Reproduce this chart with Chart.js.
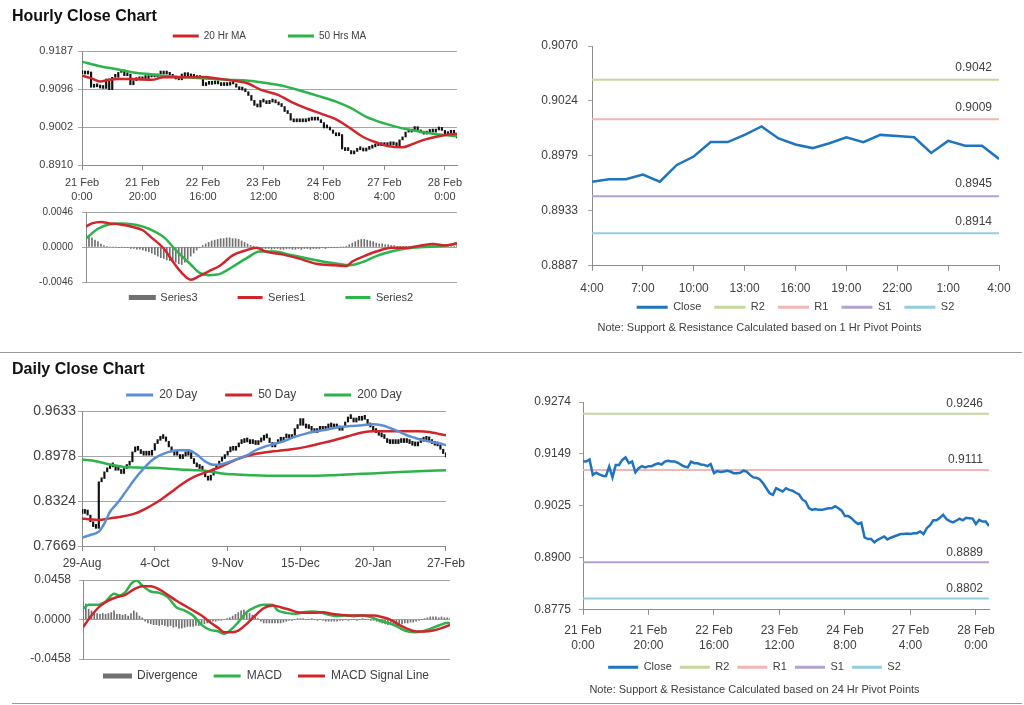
<!DOCTYPE html>
<html>
<head>
<meta charset="utf-8">
<title>Hourly and Daily Close Charts</title>
<script src="https://cdn.jsdelivr.net/npm/chart.js@4.4.1/dist/chart.umd.min.js"></script>
<style>
body{margin:0;background:#fff;width:1024px;height:705px;overflow:hidden;position:relative;font-family:"Liberation Sans",Arial,sans-serif;}
canvas{position:absolute;}
.heading{position:absolute;left:12px;font-weight:bold;font-size:16px;color:#111;z-index:2;}
.rule{position:absolute;height:0;border-top:1px solid #9a9a9a;}
</style>
</head>
<body>
<div class="rule" style="left:0;top:352px;width:1022px"></div>
<div class="rule" style="left:12px;top:703px;width:1010px"></div>
<canvas id="hourlyPrice" width="470" height="216" style="left:0;top:-11px"></canvas>
<canvas id="hourlyMacd" width="470" height="147" style="left:0;top:196px"></canvas>
<canvas id="lastDay" width="504" height="307" style="left:520px;top:28px"></canvas>
<canvas id="dailyPrice" width="470" height="211" style="left:0;top:361px"></canvas>
<canvas id="dailyMacd" width="470" height="133" style="left:0;top:564px"></canvas>
<canvas id="hourlyLine" width="504" height="312" style="left:520px;top:385px"></canvas>
<div class="heading" style="top:7px">Hourly Close Chart</div>
<div class="heading" style="top:360px">Daily Close Chart</div>
<script>
// ---- hourly data (21 Feb 0:00 .. 28 Feb 4:00, one value per hour)
const hourlyClose = [
0.9132,0.9131,0.9136,0.9099,0.9104,0.9100,0.9097,0.9096,0.9119,0.9093,
0.9123,0.9123,0.9135,0.9141,0.9127,0.9131,0.9105,0.9115,0.9120,0.9117,
0.9120,0.9120,0.9124,0.9127,0.9124,0.9131,0.9133,0.9131,0.9131,0.9128,
0.9123,0.9119,0.9117,0.9131,0.9127,0.9127,0.9124,0.9123,0.9120,0.9125,
0.9103,0.9108,0.9106,0.9107,0.9109,0.9107,0.9103,0.9103,0.9104,0.9109,
0.9107,0.9099,0.9093,0.9092,0.9088,0.9079,0.9067,0.9055,0.9051,0.9067,
0.9063,0.9059,0.9067,0.9063,0.9061,0.9056,0.9052,0.9040,0.9035,0.9019,
0.9015,0.9017,0.9015,0.9015,0.9017,0.9019,0.9019,0.9024,0.9019,0.9013,
0.9000,0.9000,0.8995,0.8987,0.8981,0.8984,0.8949,0.8945,0.8945,0.8937,
0.8943,0.8947,0.8951,0.8944,0.8948,0.8951,0.8954,0.8957,0.8957,0.8958,
0.8957,0.8959,0.8959,0.8963,0.8957,0.8971,0.8978,0.8990,0.8990,0.8996,
0.9003,0.8993,0.8988,0.8985,0.8989,0.8994,0.8990,0.8996,0.8995,0.8994,
0.8981,0.8991,0.8987,0.8987,0.8976];

const ma20Hours = [0,3,6,9,12,17,23,27,34,40,46,50,55,59,65,69,74,79,84,88,93,98,101,106,109,113,118,121,124];
const ma20Values = [0.9127,0.9121,0.9113,0.9117,0.9119,0.9119,0.9117,0.9123,0.9123,0.9124,0.9119,0.9115,0.9108,0.9093,0.9080,0.9064,0.9048,0.9035,0.9021,0.9003,0.8978,0.8963,0.8956,0.8953,0.8960,0.8971,0.8980,0.8984,0.8986];
const ma50Hours = [0,6,12,17,23,28,35,41,48,55,61,67,72,78,84,89,94,100,106,111,116,121,124];
const ma50Values = [0.9161,0.9150,0.9142,0.9135,0.9130,0.9126,0.9123,0.9120,0.9117,0.9115,0.9109,0.9101,0.9091,0.9078,0.9064,0.9048,0.9027,0.9011,0.8999,0.8992,0.8986,0.8982,0.8980];

const series1Hours = [0,2,5,8,11,16,19,22,26,29,32,35,38,41,45,49,53,57,60,66,71,77,83,87,89,93,97,102,107,112,116,120,124];
const series1Values = [0.0027,0.0031,0.0033,0.0031,0.0030,0.0026,0.0022,0.0012,-0.0002,-0.0019,-0.0034,-0.0043,-0.0038,-0.0032,-0.0024,-0.0011,-0.0005,-0.0001,-0.0006,-0.0010,-0.0015,-0.0022,-0.0024,-0.0025,-0.0019,-0.0012,-0.0006,-0.0001,-0.0001,0.0002,0.0004,0.0002,0.0005];
const series2Hours = [0,4,8,12,17,21,26,30,35,38,41,45,49,54,58,63,68,74,79,84,88,93,97,102,107,113,118,124];
const series2Values = [0.0011,0.0024,0.0030,0.0031,0.0029,0.0024,0.0013,-0.0004,-0.0023,-0.0034,-0.0037,-0.0035,-0.0026,-0.0014,-0.0006,-0.0006,-0.0010,-0.0015,-0.0019,-0.0022,-0.0024,-0.0019,-0.0012,-0.0006,-0.0002,0.0000,0.0001,0.0004];
const series3Values = [
0.0016,0.0013,0.0012,0.0009,0.0007,0.0004,0.0002,0.0001,0.0000,0.0000,
0.0000,-0.0001,0.0000,-0.0001,-0.0001,-0.0002,-0.0002,-0.0003,-0.0003,-0.0004,
-0.0005,-0.0006,-0.0008,-0.0010,-0.0012,-0.0014,-0.0015,-0.0017,-0.0018,-0.0019,
-0.0020,-0.0022,-0.0023,-0.0020,-0.0016,-0.0012,-0.0008,-0.0004,-0.0001,0.0002,
0.0004,0.0006,0.0008,0.0009,0.0010,0.0011,0.0011,0.0012,0.0012,0.0011,
0.0011,0.0010,0.0008,0.0006,0.0004,0.0002,0.0001,-0.0001,-0.0001,-0.0002,
-0.0002,-0.0002,-0.0003,-0.0002,-0.0002,-0.0003,-0.0003,-0.0002,-0.0002,-0.0003,
-0.0003,-0.0002,-0.0003,-0.0002,-0.0002,-0.0003,-0.0002,-0.0002,-0.0002,-0.0001,
-0.0002,-0.0001,-0.0001,-0.0001,-0.0001,0.0000,0.0000,0.0001,0.0003,0.0005,
0.0007,0.0009,0.0010,0.0010,0.0009,0.0008,0.0007,0.0005,0.0004,0.0004,
0.0003,0.0003,0.0002,0.0002,0.0001,0.0001,0.0001,0.0001,0.0001,0.0000,
0.0001,0.0001,0.0002,0.0002,0.0001,0.0002,0.0002,0.0001,0.0002,0.0002,
0.0001,0.0002,0.0002,0.0001,0.0002];

const hourTickStep = 20;
const hourTicks = [['21 Feb','0:00'],['21 Feb','20:00'],['22 Feb','16:00'],['23 Feb','12:00'],['24 Feb','8:00'],['27 Feb','4:00'],['28 Feb','0:00']];
const hourPriceTicks = ['0.8910','0.9002','0.9096','0.9187'];
const hourMacdTicks = ['-0.0046','0.0000','0.0046'];

// last 24 hours with pivot levels
const lastDayStart = 100;
const lastDayTickStep = 3;
const lastDayTicks = ['4:00','7:00','10:00','13:00','16:00','19:00','22:00','1:00','4:00'];
const lastDayValueTicks = ['0.8887','0.8933','0.8979','0.9024','0.9070'];
const levelNames = ['R2','R1','S1','S2'];
const hourPivots = [0.9042,0.9009,0.8945,0.8914];
const dayPivots = [0.9246,0.9111,0.8889,0.8802];
const hourLineTicks = ['0.8775','0.8900','0.9025','0.9149','0.9274'];

// ---- daily data (29-Aug .. 27-Feb, trading days)
const dailyClose = [
0.8143,0.8192,0.8119,0.8022,0.7950,0.7926,0.8603,0.8651,0.8748,0.8796,
0.8845,0.8820,0.8772,0.8772,0.8724,0.8796,0.8845,0.8893,0.9038,0.9111,
0.9062,0.9014,0.8990,0.9000,0.8990,0.9062,0.9159,0.9207,0.9232,0.9256,
0.9193,0.9111,0.9038,0.8990,0.9000,0.8941,0.8980,0.8990,0.9028,0.8941,
0.8869,0.8820,0.8796,0.8772,0.8675,0.8627,0.8700,0.8796,0.8845,0.8903,
0.8941,0.8990,0.9038,0.9111,0.9062,0.9111,0.9159,0.9174,0.9207,0.9183,
0.9159,0.9174,0.9145,0.9183,0.9207,0.9280,0.9241,0.9174,0.9111,0.9159,
0.9207,0.9193,0.9241,0.9256,0.9232,0.9280,0.9377,0.9425,0.9522,0.9425,
0.9386,0.9377,0.9352,0.9319,0.9352,0.9367,0.9352,0.9386,0.9425,0.9401,
0.9386,0.9415,0.9352,0.9401,0.9473,0.9546,0.9522,0.9473,0.9531,0.9498,
0.9531,0.9512,0.9449,0.9401,0.9352,0.9319,0.9280,0.9256,0.9232,0.9174,
0.9159,0.9174,0.9159,0.9174,0.9193,0.9174,0.9193,0.9159,0.9135,0.9125,
0.9174,0.9193,0.9207,0.9256,0.9193,0.9159,0.9135,0.9125,0.9077,0.9014,
0.8966];

const ma20DayIdx = [0,3,6,8,10,13,16,19,22,25,28,31,34,38,41,44,47,50,53,56,59,62,65,68,72,76,80,84,88,92,96,100,104,107,110,113,116,119,122,125,128,130];
const ma20DayVals = [0.7790,0.7829,0.7877,0.7998,0.8167,0.8312,0.8482,0.8651,0.8796,0.8917,0.8990,0.9038,0.9062,0.9062,0.9000,0.8900,0.8850,0.8860,0.8900,0.8941,0.8990,0.9062,0.9111,0.9145,0.9193,0.9256,0.9304,0.9338,0.9367,0.9401,0.9415,0.9425,0.9440,0.9425,0.9386,0.9338,0.9280,0.9241,0.9207,0.9183,0.9159,0.9135];
const ma50DayIdx = [0,3,6,10,14,19,24,28,32,36,40,44,48,52,56,60,65,70,75,80,85,90,95,100,104,108,114,120,124,127,130];
const ma50DayVals = [0.8071,0.8056,0.8046,0.8071,0.8095,0.8143,0.8240,0.8337,0.8458,0.8579,0.8675,0.8738,0.8796,0.8869,0.8941,0.8990,0.9028,0.9053,0.9077,0.9111,0.9159,0.9207,0.9265,0.9319,0.9338,0.9338,0.9338,0.9338,0.9328,0.9304,0.9280];
const ma200DayIdx = [0,5,10,15,20,25,30,35,40,45,50,55,60,70,80,90,100,110,120,130];
const ma200DayVals = [0.8927,0.8903,0.8855,0.8820,0.8811,0.8806,0.8796,0.8782,0.8772,0.8758,0.8724,0.8709,0.8700,0.8690,0.8690,0.8700,0.8719,0.8738,0.8758,0.8772];

const macdDayIdx = [0,2,5,8,11,13,15,17,19,21,24,27,30,33,36,39,42,45,48,50,53,55,58,61,64,67,69,72,75,78,81,84,87,90,93,96,99,102,105,108,111,114,117,120,123,126,129,130];
const macdDayVals = [0.0124,0.0170,0.0170,0.0209,0.0298,0.0278,0.0317,0.0413,0.0452,0.0394,0.0325,0.0309,0.0259,0.0143,0.0104,0.0046,-0.0062,-0.0120,-0.0139,-0.0166,-0.0100,-0.0031,0.0085,0.0143,0.0170,0.0170,0.0104,0.0077,0.0066,0.0085,0.0093,0.0085,0.0054,0.0039,0.0046,0.0039,0.0046,0.0027,-0.0012,-0.0039,-0.0077,-0.0128,-0.0147,-0.0139,-0.0108,-0.0070,-0.0039,-0.0043];
const signalDayIdx = [0,3,6,9,12,15,18,21,24,27,30,33,36,39,42,45,48,50,53,55,58,61,64,67,70,73,76,79,82,85,88,91,94,97,100,103,106,109,112,115,118,121,124,127,130];
const signalDayVals = [-0.0089,0.0046,0.0155,0.0220,0.0259,0.0286,0.0348,0.0386,0.0386,0.0348,0.0286,0.0220,0.0162,0.0104,0.0046,-0.0031,-0.0100,-0.0147,-0.0147,-0.0128,-0.0050,0.0046,0.0131,0.0162,0.0143,0.0116,0.0085,0.0077,0.0077,0.0085,0.0066,0.0054,0.0046,0.0046,0.0046,0.0046,0.0027,-0.0004,-0.0062,-0.0108,-0.0139,-0.0139,-0.0128,-0.0100,-0.0062];
const divergenceDay = [
0.0200,0.0180,0.0120,0.0100,0.0080,0.0070,0.0060,0.0070,0.0060,0.0070,
0.0080,0.0100,0.0060,0.0060,0.0050,0.0060,0.0040,0.0070,0.0100,0.0080,
0.0040,0.0020,-0.0020,-0.0040,-0.0050,-0.0060,-0.0060,-0.0070,-0.0060,-0.0070,
-0.0080,-0.0070,-0.0090,-0.0080,-0.0100,-0.0100,-0.0090,-0.0080,-0.0080,-0.0080,
-0.0070,-0.0070,-0.0060,-0.0050,-0.0040,-0.0030,-0.0020,-0.0020,-0.0010,-0.0010,
0.0000,0.0010,0.0020,0.0040,0.0060,0.0080,0.0100,0.0110,0.0090,0.0070,
0.0050,0.0030,0.0010,-0.0020,-0.0040,-0.0040,-0.0040,-0.0040,-0.0040,-0.0040,
-0.0040,-0.0030,-0.0020,-0.0010,-0.0010,0.0000,0.0010,0.0010,0.0010,0.0000,
0.0000,0.0010,0.0000,-0.0010,0.0000,-0.0010,-0.0020,-0.0020,-0.0020,-0.0020,
-0.0020,-0.0010,-0.0010,0.0000,-0.0010,0.0000,0.0000,-0.0010,0.0000,0.0010,
0.0000,0.0000,-0.0010,-0.0010,-0.0020,-0.0030,-0.0040,-0.0050,-0.0060,-0.0060,
-0.0070,-0.0060,-0.0060,-0.0050,-0.0040,-0.0040,-0.0030,-0.0030,-0.0020,-0.0010,
0.0000,0.0010,0.0020,0.0030,0.0030,0.0030,0.0020,0.0030,0.0020,0.0020,
0.0010];

const dayTickStep = 26;
const dayTicks = ['29-Aug','4-Oct','9-Nov','15-Dec','20-Jan','27-Feb'];
const dayPriceTicks = ['0.7669','0.8324','0.8978','0.9633'];
const dayMacdTicks = ['-0.0458','0.0000','0.0458'];

// ---- styling
const red = '#d0262b', green = '#2cb34a', blue = '#5b8fd4', closeBlue = '#1f74bf';
const levelColors = ['#c3d69b','#f2b6b6','#b3a2d0','#93cddd'];
const gridGray = '#a6a6a6', axisGray = '#8c8c8c', textGray = '#404040';

// moves a legend up or down without changing its item spacing
const legendNudge = {
  id: 'legendNudge',
  afterLayout(chart, args, opts) {
    if (!opts.dy || !chart.legend) return;
    chart.legend.top += opts.dy;
    chart.legend.bottom += opts.dy;
  }
};
Chart.register(legendNudge);

Chart.defaults.font.family = '"Liberation Sans", Arial, sans-serif';
Chart.defaults.color = textGray;
Chart.defaults.animation = false;
Chart.defaults.responsive = false;
Chart.defaults.plugins.tooltip.enabled = false;

function points(xs, ys) {
  return xs.map((x, k) => ({x, y: ys[k]}));
}

function ohlcBars(closes) {
  return closes.map((c, i) => ({x: i, y: [i ? closes[i - 1] : c, c]}));
}

function valueAxis(labels, width, size, pad, lines) {
  const lo = +labels[0], hi = +labels[labels.length - 1];
  return {
    type: 'linear', min: lo, max: hi,
    afterBuildTicks: s => { s.ticks = labels.map((_, k) => ({value: lo + k * (hi - lo) / (labels.length - 1)})); },
    afterFit: s => { s.width = width; },
    grid: {color: gridGray, tickLength: 4, drawOnChartArea: lines},
    border: {color: axisGray},
    ticks: {font: {size}, padding: pad, callback: (v, k) => labels[k]}
  };
}

function timeAxis(labels, step, max, height, size, pad) {
  return {
    type: 'linear', min: 0, max, offset: false,
    afterBuildTicks: s => { s.ticks = labels.map((_, k) => ({value: k * step})); },
    afterFit: s => { s.height = height; },
    grid: {drawOnChartArea: false, tickLength: 5, color: axisGray, offset: false},
    border: {color: axisGray},
    ticks: {font: {size, lineHeight: 1.27}, padding: pad, maxRotation: 0, autoSkip: false, callback: (v, k) => labels[k]}
  };
}

function hiddenAxis(max) {
  return {type: 'linear', min: 0, max, offset: false, display: false};
}

function legendAt(position, size, padding, boxWidth, fullSize, maxHeight) {
  return {
    position, fullSize, maxHeight,
    labels: {
      font: {size}, padding, boxWidth, boxHeight: 3, color: textGray,
      sort: (a, b) => a.datasetIndex - b.datasetIndex,
      filter: (item, data) => !data.datasets[item.datasetIndex].noLegend,
      generateLabels: chart => Chart.defaults.plugins.legend.labels.generateLabels(chart).map(item => {
        const ds = chart.data.datasets[item.datasetIndex];
        item.fillStyle = ds.borderColor;
        item.strokeStyle = ds.borderColor;
        item.lineWidth = ds.type === 'bar' ? 2 : 0;
        return item;
      })
    }
  };
}

function line(label, data, color, width, order, smooth = true) {
  return {type: 'line', label, data, borderColor: color, backgroundColor: color, borderWidth: width,
    pointRadius: 0, cubicInterpolationMode: smooth ? 'monotone' : 'default', tension: 0, order};
}

function levelLines(values, max) {
  return values.map((v, k) => ({type: 'line', label: levelNames[k], data: [{x: 0, y: v}, {x: max, y: v}], level: v,
    borderColor: levelColors[k], backgroundColor: levelColors[k], borderWidth: 2, pointRadius: 0, order: 2}));
}

// writes the pivot value above the right end of each level line
const levelLabels = {
  id: 'levelLabels',
  afterDatasetsDraw(chart, args, opts) {
    const {ctx, chartArea, scales} = chart;
    ctx.save();
    ctx.font = '12px "Liberation Sans", Arial, sans-serif';
    ctx.fillStyle = textGray;
    ctx.textAlign = 'right';
    ctx.textBaseline = 'middle';
    chart.data.datasets.forEach(ds => {
      if (ds.level === undefined) return;
      ctx.fillText(ds.level.toFixed(4), chartArea.right - opts.inset, scales.y.getPixelForValue(ds.level) - opts.lift);
    });
    ctx.restore();
  }
};

// hourly close with moving averages
new Chart(document.getElementById('hourlyPrice'), {
  type: 'bar',
  data: {datasets: [
    {type: 'bar', label: 'Close', noLegend: true, data: ohlcBars(hourlyClose), backgroundColor: '#111', borderColor: '#111',
      barThickness: 1.5, minBarLength: 3, order: 3},
    line('20 Hr MA', points(ma20Hours, ma20Values), red, 2.5, 1),
    line('50 Hrs MA', points(ma50Hours, ma50Values), green, 2.5, 2)
  ]},
  options: {
    layout: {padding: {top: 0, right: 13, bottom: 0, left: 0}},
    plugins: {legend: legendAt('top', 10, 42, 26, false)},
    scales: {
      x: timeAxis(hourTicks, hourTickStep, 124, 40, 11, 6),
      y: valueAxis(hourPriceTicks, 82, 11, 5, true)
    }
  }
});

// hourly MACD
new Chart(document.getElementById('hourlyMacd'), {
  type: 'bar',
  data: {datasets: [
    {type: 'bar', label: 'Series3', data: series3Values.map((v, i) => ({x: i, y: v})), backgroundColor: '#707070',
      borderColor: '#707070', barThickness: 1, order: 3},
    line('Series1', points(series1Hours, series1Values), red, 2.5, 1),
    line('Series2', points(series2Hours, series2Values), green, 2.5, 2)
  ]},
  options: {
    layout: {padding: {top: 16, right: 13, bottom: 0, left: 0}},
    plugins: {legend: legendAt('bottom', 11, 40, 25, false), legendNudge: {dy: -30}},
    scales: {
      x: hiddenAxis(124),
      y: valueAxis(hourMacdTicks, 86, 10, 9, true)
    }
  }
});

// last 24 hours against hourly pivots
new Chart(document.getElementById('lastDay'), {
  type: 'line',
  data: {datasets: [
    line('Close', hourlyClose.slice(lastDayStart).map((c, i) => ({x: i, y: c})), closeBlue, 2.5, 1, false),
    ...levelLines(hourPivots, 24)
  ]},
  options: {
    layout: {padding: {top: 18, right: 25, bottom: 0, left: 0}},
    plugins: {
      legend: legendAt('bottom', 11, 13, 31, false, 26),
      legendNudge: {dy: -7},
      subtitle: {display: true, position: 'bottom', text: 'Note: Support & Resistance Calculated based on 1 Hr Pivot Points',
        font: {size: 11}, color: textGray, padding: {top: 0, bottom: 0}},
      levelLabels: {inset: 7, lift: 12}
    },
    scales: {
      x: timeAxis(lastDayTicks, lastDayTickStep, 24, 30, 12, 10),
      y: valueAxis(lastDayValueTicks, 72, 12, 10, false)
    }
  },
  plugins: [levelLabels]
});

// daily close with moving averages
new Chart(document.getElementById('dailyPrice'), {
  type: 'bar',
  data: {datasets: [
    {type: 'bar', label: 'Close', noLegend: true, data: ohlcBars(dailyClose), backgroundColor: '#111', borderColor: '#111',
      barThickness: 1.5, minBarLength: 4, order: 4},
    line('20 Day', points(ma20DayIdx, ma20DayVals), blue, 2.5, 1),
    line('50 Day', points(ma50DayIdx, ma50DayVals), red, 2.5, 2),
    line('200 Day', points(ma200DayIdx, ma200DayVals), green, 2.5, 3)
  ]},
  options: {
    layout: {padding: {top: 0, right: 24, bottom: 0, left: 0}},
    plugins: {legend: legendAt('top', 12, 28, 27, false)},
    scales: {
      x: timeAxis(dayTicks, dayTickStep, 130, 26, 12, 5),
      y: valueAxis(dayPriceTicks, 82, 14, 2, true)
    }
  }
});

// daily MACD
new Chart(document.getElementById('dailyMacd'), {
  type: 'bar',
  data: {datasets: [
    {type: 'bar', label: 'Divergence', data: divergenceDay.map((v, i) => ({x: i, y: v})), backgroundColor: '#707070',
      borderColor: '#707070', barThickness: 1, order: 3},
    line('MACD', points(macdDayIdx, macdDayVals), green, 2.5, 2),
    line('MACD Signal Line', points(signalDayIdx, signalDayVals), red, 2.5, 1)
  ]},
  options: {
    layout: {padding: {top: 16, right: 20, bottom: 0, left: 0}},
    plugins: {legend: legendAt('bottom', 12, 16, 27, false), legendNudge: {dy: -5}},
    scales: {
      x: hiddenAxis(130),
      y: valueAxis(dayMacdTicks, 83, 12, 8, true)
    }
  }
});

// hourly close line against daily pivots
new Chart(document.getElementById('hourlyLine'), {
  type: 'line',
  data: {datasets: [
    line('Close', hourlyClose.map((c, i) => ({x: i, y: c})), closeBlue, 2.5, 1, false),
    ...levelLines(dayPivots, 124)
  ]},
  options: {
    layout: {padding: {top: 17, right: 35, bottom: 0, left: 0}},
    plugins: {
      legend: legendAt('bottom', 11, 8, 30, true),
      subtitle: {display: true, position: 'bottom', text: 'Note: Support & Resistance Calculated based on 24 Hr Pivot Points',
        font: {size: 11}, color: textGray, padding: {top: 1, bottom: 0}},
      levelLabels: {inset: 6, lift: 10}
    },
    scales: {
      x: timeAxis(hourTicks, hourTickStep, 124, 44, 12, 8),
      y: valueAxis(hourLineTicks, 63, 12, 8, false)
    }
  },
  plugins: [levelLabels]
});
</script>
</body>
</html>
